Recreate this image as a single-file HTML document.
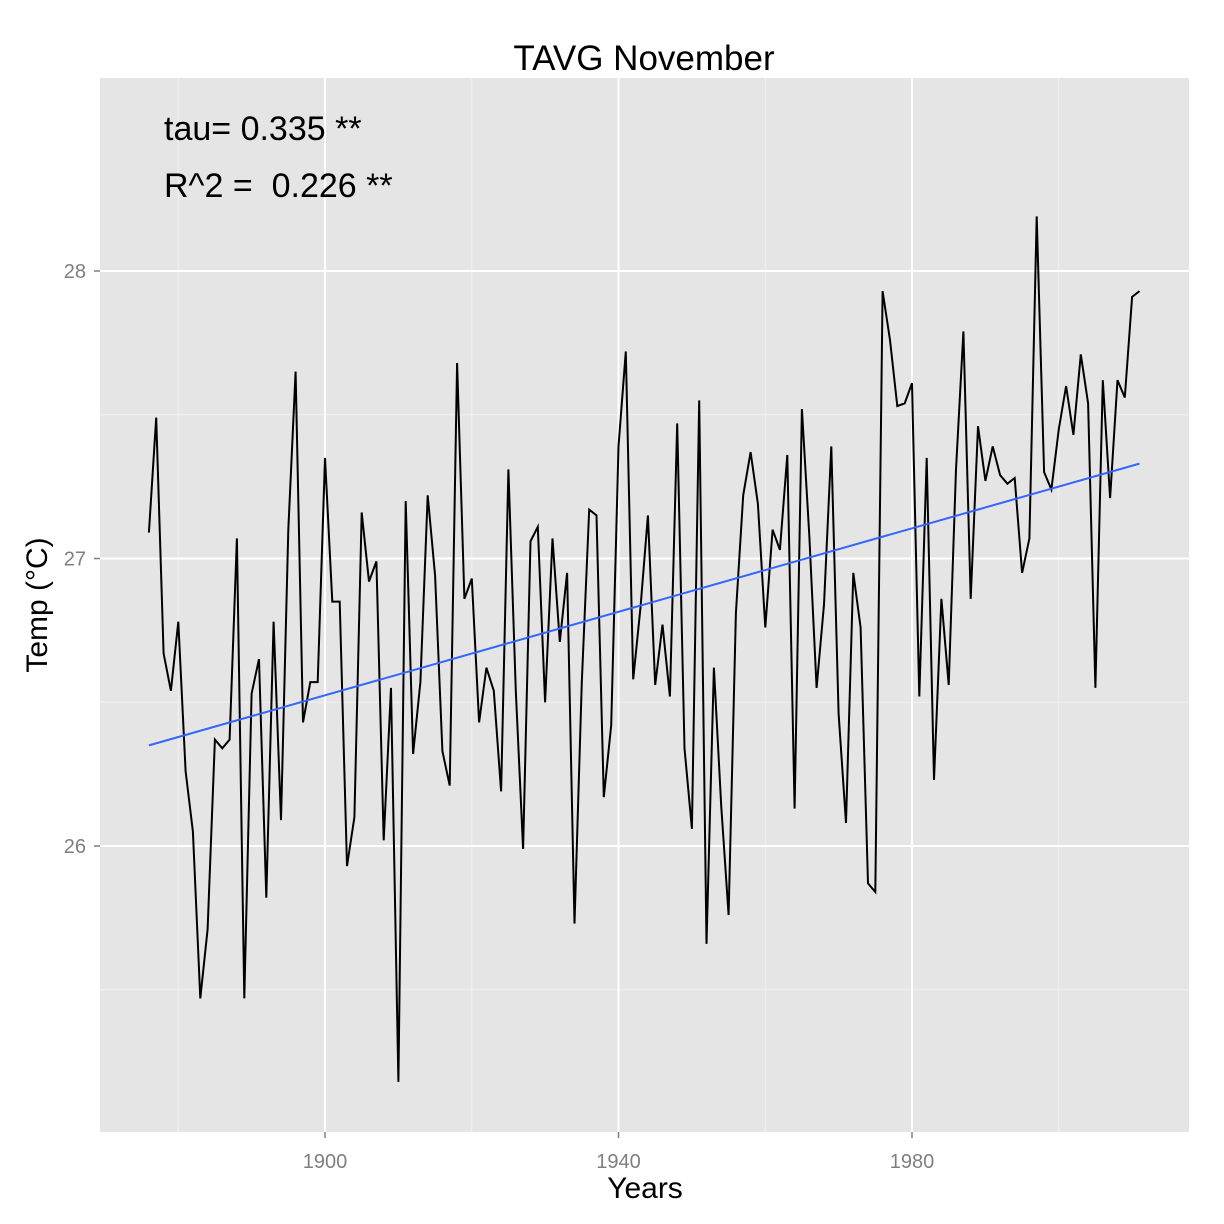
<!DOCTYPE html>
<html><head><meta charset="utf-8"><style>
body{margin:0;background:#fff;}
svg{display:block;font-family:"Liberation Sans",sans-serif;}
</style></head><body>
<svg id="chart" width="1224" height="1224">
<rect x="0" y="0" width="1224" height="1224" fill="#fff"/>
<rect x="100" y="78" width="1089" height="1054" fill="#e5e5e5"/>
<g id="grid"></g>
<g id="marks"></g>
<text x="644" y="70" font-size="35" text-anchor="middle">TAVG November</text>
<text x="164" y="140" font-size="34">tau= 0.335 **</text>
<text x="164" y="197" font-size="34">R^2 =&#160; 0.226 **</text>
<text x="645" y="1198" font-size="30" text-anchor="middle">Years</text>
<text transform="translate(47,605) rotate(-90)" font-size="30" text-anchor="middle">Temp (°C)</text>
<g id="ticks"></g>
</svg>
<script>
const startYear = 1876;
const temps = [27.09,27.49,26.67,26.54,26.78,26.26,26.05,25.47,25.71,26.37,26.34,26.37,27.07,25.47,26.53,26.65,25.82,26.78,26.09,27.10,27.65,26.43,26.57,26.57,27.35,26.85,26.85,25.93,26.10,27.16,26.92,26.99,26.02,26.55,25.18,27.20,26.32,26.57,27.22,26.94,26.33,26.21,27.68,26.86,26.93,26.43,26.62,26.54,26.19,27.31,26.54,25.99,27.06,27.11,26.50,27.07,26.71,26.95,25.73,26.57,27.17,27.15,26.17,26.42,27.39,27.72,26.58,26.83,27.15,26.56,26.77,26.52,27.47,26.34,26.06,27.55,25.66,26.62,26.14,25.76,26.81,27.22,27.37,27.19,26.76,27.10,27.03,27.36,26.13,27.52,27.08,26.55,26.84,27.39,26.46,26.08,26.95,26.76,25.87,25.84,27.93,27.76,27.53,27.54,27.61,26.52,27.35,26.23,26.86,26.56,27.31,27.79,26.86,27.46,27.27,27.39,27.29,27.26,27.28,26.95,27.07,28.19,27.30,27.24,27.45,27.60,27.43,27.71,27.54,26.55,27.62,27.21,27.62,27.56,27.91,27.93];
const trendStart = 26.35, trendEnd = 27.33;
const xTicks = [1900,1940,1980];
const xMinor = [1880,1920,1960,2000];
const yTicks = [26,27,28];
const yMinor = [25.5,26.5,27.5];
const X = y => 325 + (y-1900)*(587/80);
const Y = t => 271 + (28-t)*287.5;
const NS='http://www.w3.org/2000/svg';
function mk(tag,attrs,parent){const e=document.createElementNS(NS,tag);for(const k in attrs)e.setAttribute(k,attrs[k]);document.getElementById(parent).appendChild(e);return e;}
xMinor.forEach(v=>{const e=mk('line',{x1:X(v),x2:X(v),y1:78,y2:1132,stroke:'#f2f2f2','stroke-width':1},'grid');

});
yMinor.forEach(v=>{const e=mk('line',{x1:100,x2:1189,y1:Y(v),y2:Y(v),stroke:'#f2f2f2','stroke-width':1},'grid');

});
xTicks.forEach(v=>{const e=mk('line',{x1:X(v),x2:X(v),y1:78,y2:1132,stroke:'#fff','stroke-width':2},'grid');


const t=mk('text',{x:X(v),y:1168,'font-size':20,'text-anchor':'middle',fill:'#7f7f7f'},'ticks');t.textContent=v;


mk('line',{x1:X(v),x2:X(v),y1:1132,y2:1138,stroke:'#7f7f7f','stroke-width':1.5},'ticks');});
yTicks.forEach(v=>{const e=mk('line',{x1:100,x2:1189,y1:Y(v),y2:Y(v),stroke:'#fff','stroke-width':2},'grid');


const t=mk('text',{x:86,y:Y(v)+7,'font-size':20,'text-anchor':'end',fill:'#7f7f7f'},'ticks');t.textContent=v;


mk('line',{x1:94,x2:100,y1:Y(v),y2:Y(v),stroke:'#7f7f7f','stroke-width':1.5},'ticks');});
const pts=temps.map((t,i)=>X(startYear+i).toFixed(1)+','+Y(t).toFixed(1)).join(' ');
const line=mk('polyline',{points:pts,fill:'none',stroke:'#000','stroke-width':2},'marks');


const endYear=startYear+temps.length-1;
const tr=mk('line',{x1:X(startYear),y1:Y(trendStart),x2:X(endYear),y2:Y(trendEnd),stroke:'#3366ff','stroke-width':2},'marks');


</script>
</body></html>
